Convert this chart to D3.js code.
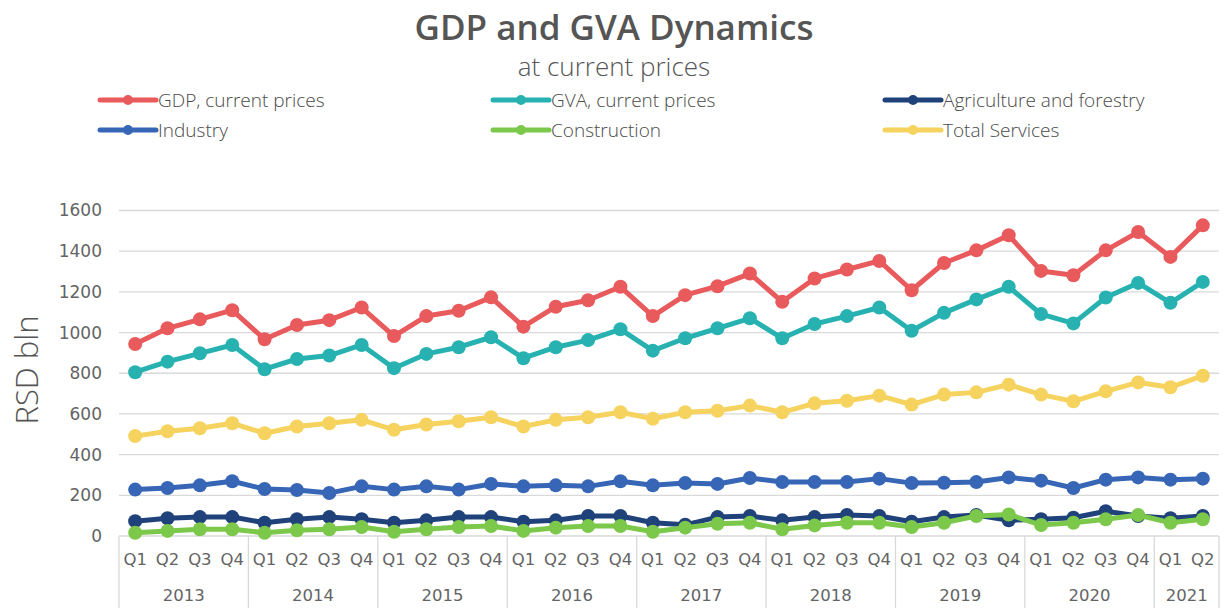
<!DOCTYPE html>
<html>
<head>
<meta charset="utf-8">
<script src="https://cdn.jsdelivr.net/npm/d3@7"></script>
<style>
  html, body { margin: 0; padding: 0; background: #ffffff; }
  svg { display: block; }
</style>
</head>
<body>
<svg id="chart" width="1224" height="608"></svg>
<script>
// Quarterly periods, 2013 Q1 – 2021 Q2
const years = ["2013", "2014", "2015", "2016", "2017", "2018", "2019", "2020", "2021"];
const quarters = ["Q1", "Q2", "Q3", "Q4"];
const yTicks = [0, 200, 400, 600, 800, 1000, 1200, 1400, 1600];

// RSD bln, at current prices
const gdp = [944, 1021, 1065, 1110, 967, 1037, 1061, 1123, 983, 1081, 1107, 1173, 1029, 1127, 1159, 1225, 1081, 1184, 1228, 1290, 1151, 1266, 1310, 1352, 1208, 1342, 1404, 1478, 1303, 1282, 1404, 1494, 1372, 1527];
const gva = [805, 857, 898, 939, 820, 870, 887, 939, 825, 895, 928, 977, 874, 928, 963, 1016, 911, 972, 1021, 1070, 972, 1042, 1081, 1123, 1009, 1097, 1163, 1225, 1091, 1045, 1172, 1244, 1146, 1249];
const agriculture = [73, 87, 93, 93, 65, 82, 93, 82, 65, 77, 93, 93, 70, 77, 98, 98, 65, 55, 93, 98, 77, 93, 103, 98, 70, 93, 103, 77, 82, 90, 122, 98, 87, 98];
const industry = [228, 236, 249, 269, 231, 226, 211, 244, 228, 244, 228, 256, 244, 249, 244, 269, 249, 260, 256, 285, 265, 265, 265, 282, 260, 262, 265, 288, 272, 236, 277, 288, 277, 282];
const construction = [16, 25, 33, 33, 16, 28, 33, 44, 21, 33, 44, 49, 25, 41, 49, 49, 21, 41, 60, 65, 33, 52, 65, 65, 44, 65, 98, 106, 54, 65, 82, 103, 65, 82];
const services = [491, 515, 530, 554, 505, 538, 554, 571, 522, 548, 564, 584, 538, 571, 584, 608, 576, 608, 616, 641, 608, 652, 665, 690, 646, 695, 706, 744, 695, 662, 711, 755, 731, 788];

const seriesNames = ["GDP, current prices", "GVA, current prices", "Agriculture and forestry", "Industry", "Construction", "Total Services"];
const seriesColors = ["#e85a5c", "#27b2b1", "#20427a", "#3766b6", "#7cc84b", "#f6d35e"];
const seriesValues = [gdp, gva, agriculture, industry, construction, services];

// period list built from years × quarters (2021 only has Q1, Q2)
const periods = [];
years.forEach(y => quarters.forEach(q => {
  if (!(y === "2021" && (q === "Q3" || q === "Q4"))) periods.push({ year: y, q: q });
}));

const svg = d3.select("#chart");
const textColor = "#646464";
const gridColor = "#d9d9d9";

const plot = { left: 119, right: 1219, top: 210.5, bottom: 536 };

const x = d3.scaleBand()
  .domain(d3.range(periods.length))
  .range([plot.left, plot.right])
  .padding(0);
const y = d3.scaleLinear()
  .domain([0, 1600])
  .range([plot.bottom, plot.top]);
const cx = i => x(i) + x.bandwidth() / 2;

// Title and subtitle
svg.append("text")
  .attr("x", 614).attr("y", 40)
  .attr("text-anchor", "middle")
  .attr("font-family", "'Open Sans', sans-serif")
  .attr("font-weight", 600)
  .attr("font-size", 35)
  .attr("fill", "#555555")
  .text("GDP and GVA Dynamics");
svg.append("text")
  .attr("x", 614).attr("y", 76)
  .attr("text-anchor", "middle")
  .attr("font-family", "'Open Sans', sans-serif")
  .attr("font-weight", 300)
  .attr("font-size", 26)
  .attr("fill", "#555555")
  .text("at current prices");

// Legend: three columns, two rows
const legendCols = [100, 493, 885];
const legendRows = [100, 130];
seriesNames.forEach((name, i) => {
  const lx = legendCols[i % 3];
  const ly = legendRows[Math.floor(i / 3)];
  const g = svg.append("g").attr("transform", `translate(${lx},${ly})`);
  g.append("line")
    .attr("x1", 0).attr("x2", 56).attr("y1", 0).attr("y2", 0)
    .attr("stroke", seriesColors[i]).attr("stroke-width", 5)
    .attr("stroke-linecap", "round");
  g.append("circle")
    .attr("cx", 28).attr("cy", 0).attr("r", 5)
    .attr("fill", seriesColors[i]);
  g.append("text")
    .attr("x", 58).attr("y", 6.5)
    .attr("font-family", "'Open Sans', sans-serif")
    .attr("font-weight", 300)
    .attr("font-size", 19)
    .attr("fill", "#4a4a4a")
    .text(name);
});

// Horizontal gridlines and value axis
const yAxis = d3.axisLeft(y).tickValues(yTicks).tickFormat(d3.format("d")).tickSize(0).tickPadding(0);
const yG = svg.append("g").attr("transform", `translate(${plot.left - 17},0)`).call(yAxis);
yG.select(".domain").remove();
yG.selectAll("text")
  .attr("font-family", "'DejaVu Sans', sans-serif")
  .attr("font-size", 17)
  .attr("fill", textColor);

svg.append("g").selectAll("line")
  .data(yTicks.filter(t => t > 0))
  .join("line")
  .attr("x1", plot.left).attr("x2", plot.right)
  .attr("y1", d => y(d)).attr("y2", d => y(d))
  .attr("stroke", gridColor).attr("stroke-width", 1.3);

// Axis title
svg.append("text")
  .attr("transform", `translate(38,370) rotate(-90)`)
  .attr("text-anchor", "middle")
  .attr("font-family", "'Open Sans', sans-serif")
  .attr("font-weight", 300)
  .attr("font-size", 31)
  .attr("fill", "#555555")
  .text("RSD bln");

// Category axis: baseline, quarter labels, year groups
svg.append("line")
  .attr("x1", plot.left).attr("x2", plot.right)
  .attr("y1", y(0)).attr("y2", y(0))
  .attr("stroke", gridColor).attr("stroke-width", 1.3);

svg.append("g").selectAll("text")
  .data(periods)
  .join("text")
  .attr("x", (d, i) => cx(i))
  .attr("y", 565)
  .attr("text-anchor", "middle")
  .attr("font-family", "'DejaVu Sans', sans-serif")
  .attr("font-size", 16.5)
  .attr("fill", textColor)
  .text(d => d.q);

const yearGroups = years.map(yr => {
  const idx = periods.map((p, i) => p.year === yr ? i : -1).filter(i => i >= 0);
  return { year: yr, first: idx[0], last: idx[idx.length - 1] };
});
const boundaries = yearGroups.map(g => x(g.first)).concat([plot.right]);
svg.append("g").selectAll("line")
  .data(boundaries)
  .join("line")
  .attr("x1", d => d).attr("x2", d => d)
  .attr("y1", y(0)).attr("y2", 608)
  .attr("stroke", gridColor).attr("stroke-width", 1.3);

svg.append("g").selectAll("text")
  .data(yearGroups)
  .join("text")
  .attr("x", d => (x(d.first) + x(d.last) + x.bandwidth()) / 2)
  .attr("y", 601)
  .attr("text-anchor", "middle")
  .attr("font-family", "'DejaVu Sans', sans-serif")
  .attr("font-size", 16.5)
  .attr("fill", textColor)
  .text(d => d.year);

// Series lines with markers (later series drawn on top)
const line = d3.line().x((d, i) => cx(i)).y(d => y(d));
seriesValues.forEach((vals, s) => {
  const g = svg.append("g");
  g.append("path")
    .datum(vals)
    .attr("d", line)
    .attr("fill", "none")
    .attr("stroke", seriesColors[s])
    .attr("stroke-width", 5)
    .attr("stroke-linejoin", "round");
  g.selectAll("circle")
    .data(vals)
    .join("circle")
    .attr("cx", (d, i) => cx(i))
    .attr("cy", d => y(d))
    .attr("r", 7)
    .attr("fill", seriesColors[s]);
});
</script>
</body>
</html>
